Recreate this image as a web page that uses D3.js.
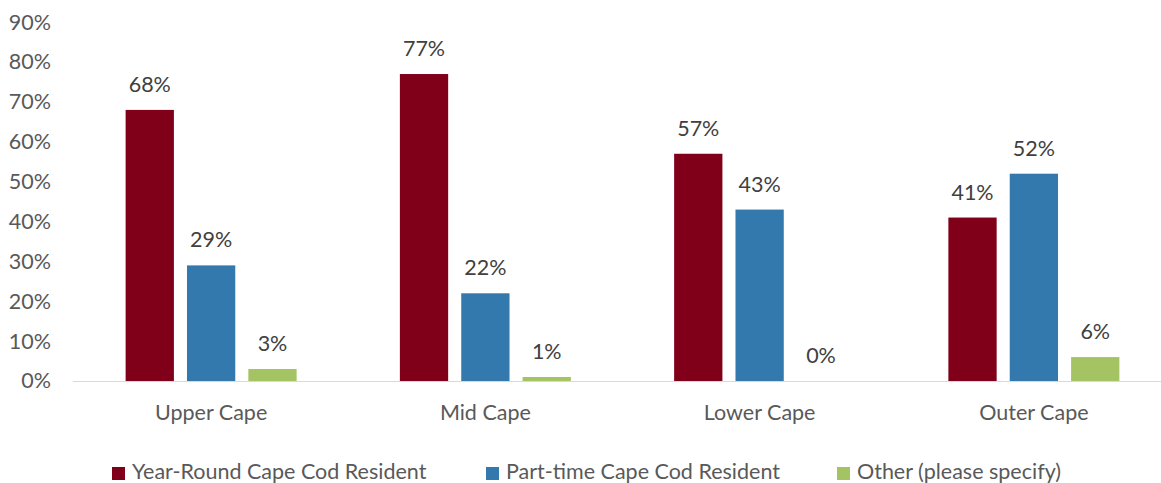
<!DOCTYPE html>
<html>
<head>
<meta charset="utf-8">
<script src="https://cdn.jsdelivr.net/npm/d3@7/dist/d3.min.js"></script>
<style>
  html, body { margin: 0; padding: 0; background: #fff; }
  svg { display: block; font-family: Lato, "Open Sans", sans-serif; }
</style>
</head>
<body>
<svg id="chart" width="1161" height="483"></svg>
<script>
// Residency of respondents by Cape region
const regions = ["Upper Cape", "Mid Cape", "Lower Cape", "Outer Cape"];
const seriesNames = ["Year-Round Cape Cod Resident", "Part-time Cape Cod Resident", "Other (please specify)"];
const yearRound = [68, 77, 57, 41];
const partTime = [29, 22, 43, 52];
const other = [3, 1, 0, 6];
const yTicks = [0, 10, 20, 30, 40, 50, 60, 70, 80, 90];
const colors = ["#7F0018", "#3479AD", "#A4C362"];

const series = [yearRound, partTime, other];
const fontSize = "21.5px";

const svg = d3.select("#chart");
const margin = { left: 74, right: 1171, top: 22.2, bottom: 381 };

const x0 = d3.scaleBand().domain(regions).range([margin.left, margin.right]).paddingInner(0).paddingOuter(0);
const x1 = d3.scaleBand().domain(d3.range(series.length))
  .range([x0.bandwidth() / 2 - 85.5, x0.bandwidth() / 2 + 85.5])
  .paddingInner(13 / 61).paddingOuter(0);
const y = d3.scaleLinear().domain([0, 90]).range([margin.bottom, margin.top]);

// y-axis tick labels (no axis line)
const yAxis = d3.axisLeft(y).tickValues(yTicks).tickFormat(d => d + "%").tickSize(0).tickPadding(0);
const gy = svg.append("g").attr("transform", "translate(51,0)").call(yAxis);
gy.select(".domain").remove();
gy.selectAll("text").attr("fill", "#595959").style("font-size", fontSize).style("font-family", "Lato, 'Open Sans', sans-serif");

// baseline
svg.append("line")
  .attr("x1", 73).attr("x2", 1161)
  .attr("y1", y(0) + 0.5).attr("y2", y(0) + 0.5)
  .attr("stroke", "#D9D9D9").attr("stroke-width", 1.2);

// bars
const groups = svg.append("g").selectAll("g")
  .data(regions)
  .join("g")
  .attr("transform", d => `translate(${x0(d)},0)`);

groups.selectAll("rect")
  .data((d, i) => series.map((s, k) => ({ k, v: s[i] })))
  .join("rect")
  .attr("x", d => x1(d.k))
  .attr("width", x1.bandwidth())
  .attr("y", d => y(d.v))
  .attr("height", d => y(0) - y(d.v))
  .attr("fill", d => colors[d.k]);

groups.selectAll("text.val")
  .data((d, i) => series.map((s, k) => ({ k, v: s[i] })))
  .join("text")
  .attr("class", "val")
  .attr("x", d => x1(d.k) + x1.bandwidth() / 2)
  .attr("y", d => y(d.v) - 18)
  .attr("text-anchor", "middle")
  .attr("fill", "#404040")
  .style("font-size", fontSize)
  .text(d => d.v + "%");

// category labels
const xAxis = d3.axisBottom(x0).tickSize(0).tickPadding(0);
const gx = svg.append("g").call(xAxis);
gx.select(".domain").remove();
gx.selectAll("text")
  .attr("y", 420).attr("dy", null)
  .attr("fill", "#595959")
  .style("font-size", fontSize)
  .style("font-family", "Lato, 'Open Sans', sans-serif");

// legend
const legendX = [112, 486, 837];
const legend = svg.append("g").selectAll("g")
  .data(seriesNames)
  .join("g")
  .attr("transform", (d, i) => `translate(${legendX[i]},467)`);
legend.append("rect").attr("width", 13).attr("height", 13).attr("fill", (d, i) => colors[i]);
legend.append("text")
  .attr("x", 20).attr("y", 12)
  .attr("fill", "#595959")
  .style("font-size", fontSize)
  .text(d => d);
</script>
</body>
</html>
